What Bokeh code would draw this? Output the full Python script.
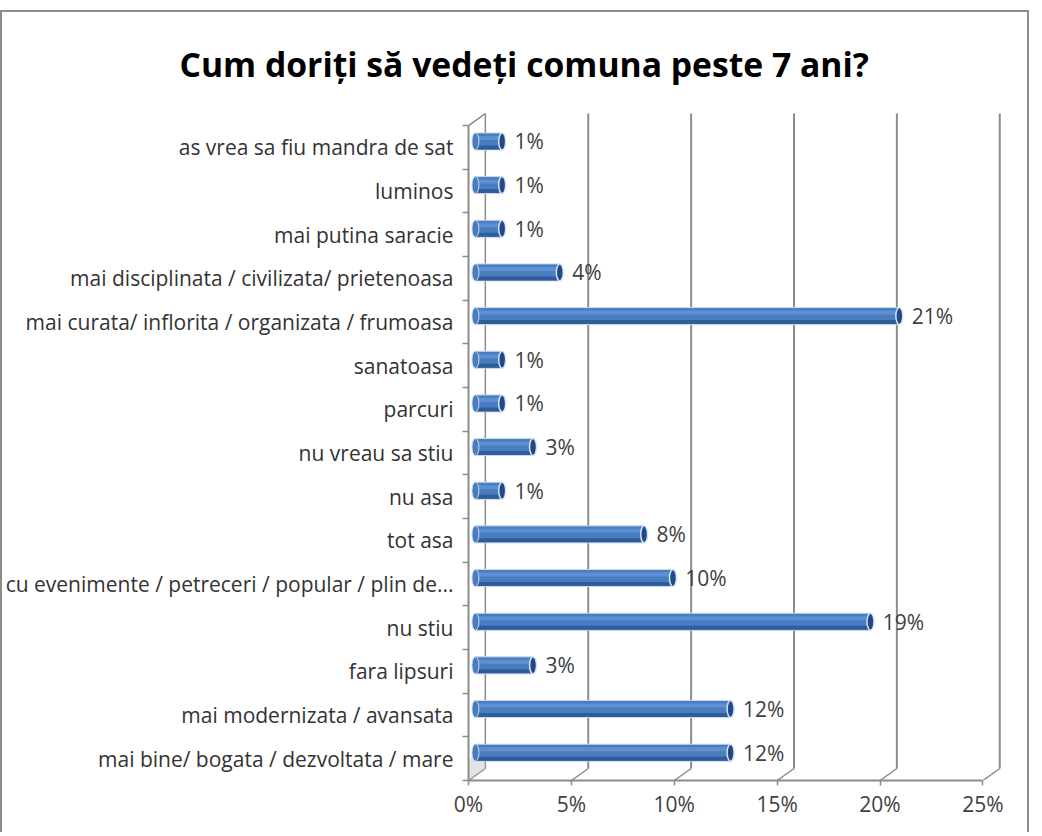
from bokeh.plotting import figure
from bokeh.models import FixedTicker, Range1d, ColumnDataSource
from bokeh.core.properties import value
from bokeh.embed import file_html
from bokeh.resources import INLINE

# ---------------- data ----------------
title_text = "Cum doriți să vedeți comuna peste 7 ani?"
categories = [
    "mai bine/ bogata / dezvoltata / mare",
    "mai modernizata / avansata",
    "fara lipsuri",
    "nu stiu",
    "cu evenimente / petreceri / popular / plin de...",
    "tot asa",
    "nu asa",
    "nu vreau sa stiu",
    "parcuri",
    "sanatoasa",
    "mai curata/ inflorita / organizata / frumoasa",
    "mai disciplinata / civilizata/ prietenoasa",
    "mai putina saracie",
    "luminos",
    "as vrea sa fiu mandra de sat",
]
values = [12.4, 12.4, 2.8, 19.2, 9.6, 8.2, 1.3, 2.8, 1.3, 1.3, 20.6, 4.1, 1.3, 1.3, 1.3]
x_ticks = [0, 5, 10, 15, 20, 25]
x_tick_labels = ["0%", "5%", "10%", "15%", "20%", "25%"]

# ---------------- geometry (pixel scale helpers) ----------------
CW, CH = 1025, 820                  # canvas size
ML, MR, MT, MB = 457, 28, 98, 54
X_END = 26.0
Y_START, Y_END = -0.5, 14.8
PX_X = (CW - ML - MR) / X_END
PX_Y = (CH - MT - MB) / (Y_END - Y_START)
DX = 17 / PX_X          # depth offset (x) of back wall
DY = 12 / PX_Y          # depth offset (y) of back wall
BAR_H = 17 / PX_Y
n = len(categories)
idx = list(range(n))
FONT = "Open Sans"

p = figure(width=CW + 4, height=CH + 2, x_range=Range1d(0, X_END), y_range=Range1d(Y_START, Y_END),
           output_backend="svg", toolbar_location=None,
           min_border_left=ML, min_border_right=MR, min_border_top=MT, min_border_bottom=MB,
           styles={"border-left": "2px solid #8c8c8c", "border-top": "2px solid #8c8c8c",
                   "border-right": "2px solid #8c8c8c", "margin": "10px 0 0 0"})
p.xgrid.visible = False
p.ygrid.visible = False
p.outline_line_color = None
p.background_fill_color = "white"
p.border_fill_color = "white"

# title
p.title.text = title_text
p.title.align = "left"
p.title.offset = -289
p.title.standoff = 52
p.title.text_font = FONT
p.title.text_font_style = "bold"
p.title.text_font_size = "33.7px"
p.title.text_color = "black"

GRID = "#8c8c8c"
# back wall gridlines
gx = [t + DX for t in x_ticks[1:]]
p.segment(x0=gx, y0=[-0.5 + DY] * len(gx), x1=gx, y1=[n - 0.5 + DY] * len(gx),
          line_color=GRID, line_width=2)
# floor diagonals
p.segment(x0=x_ticks, y0=[-0.5] * len(x_ticks), x1=[t + DX for t in x_ticks],
          y1=[-0.5 + DY] * len(x_ticks), line_color=GRID, line_width=1.5)
# left wall back edge + top edge
p.segment(x0=[DX, 0], y0=[-0.5 + DY, n - 0.5], x1=[DX, DX], y1=[n - 0.5 + DY, n - 0.5 + DY],
          line_color=GRID, line_width=1.5)
# soft shading on the left wall near the floor
p.patch(x=[0, DX, DX, 0], y=[-0.5, -0.5 + DY, 0.2, 0.0], fill_color="#c4c4c4",
        fill_alpha=0.45, line_color=None)

# ---------------- cylinder bars ----------------
bar_y = [i + DY / 2 for i in idx]
left = 7 / PX_X
right = [left + v for v in values]
src = ColumnDataSource(dict(y=bar_y, right=right, val=values,
                            lab=[f"{round(v)}%" for v in values],
                            lx=[r + 0.6 for r in right]))

BLUE = "#4a7dbf"
p.hbar(y="y", left=left, right="right", height=BAR_H, source=src,
       fill_color=BLUE, line_color="#c9daf0", line_width=1)
p.hbar(y=[b - 6.0 / PX_Y for b in bar_y], left=left, right=right, height=4 / PX_Y,
       fill_color="#2f5d99", line_color=None)
p.hbar(y=[b + 3.5 / PX_Y for b in bar_y], left=left, right=right, height=4 / PX_Y,
       fill_color="#5d90d2", line_color=None)
# left rounded end
p.ellipse(x=[left] * n, y=bar_y, width=7 / PX_X, height=BAR_H,
          fill_color=BLUE, line_color="#c9daf0", line_width=1)
p.ellipse(x=[left] * n, y=bar_y, width=5 / PX_X, height=BAR_H * 0.9,
          fill_color=BLUE, line_color=None)
# right end cap
p.ellipse(x="right", y="y", width=7 / PX_X, height=BAR_H, source=src,
          fill_color="#1f4a86", line_color="#d4e3f6", line_width=1.5)

# data labels
p.text(x="lx", y="y", text="lab", source=src, text_baseline="middle", text_align="left",
       text_font=value(FONT), text_font_size="21px", text_color="#404040")

# ---------------- axes ----------------
p.xaxis.ticker = FixedTicker(ticks=x_ticks)
p.xaxis.major_label_overrides = {t: l for t, l in zip(x_ticks, x_tick_labels)}
p.xaxis.bounds = (0, 25)
p.xaxis.axis_line_color = GRID
p.xaxis.axis_line_width = 2
p.xaxis.major_tick_line_color = GRID
p.xaxis.major_tick_line_width = 1.5
p.xaxis.major_tick_out = 5
p.xaxis.major_tick_in = 0
p.xaxis.minor_tick_line_color = None
p.xaxis.major_label_standoff = 4
p.xaxis.major_label_text_font = FONT
p.xaxis.major_label_text_font_size = "21px"
p.xaxis.major_label_text_color = "#404040"

p.yaxis.ticker = FixedTicker(ticks=idx, minor_ticks=[i - 0.5 for i in range(n + 1)])
p.yaxis.major_label_overrides = {i: c for i, c in zip(idx, categories)}
p.yaxis.bounds = (-0.5, n - 0.5)
p.yaxis.axis_line_color = GRID
p.yaxis.axis_line_width = 2
p.yaxis.major_tick_line_color = None
p.yaxis.major_tick_out = 0
p.yaxis.major_tick_in = 0
p.yaxis.minor_tick_line_color = GRID
p.yaxis.minor_tick_line_width = 1.5
p.yaxis.minor_tick_out = 6
p.yaxis.minor_tick_in = 0
p.yaxis.major_label_standoff = 9
p.yaxis.major_label_text_font = FONT
p.yaxis.major_label_text_font_size = "21px"
p.yaxis.major_label_text_color = "#333333"

open("out.html", "w").write(file_html(p, INLINE))
